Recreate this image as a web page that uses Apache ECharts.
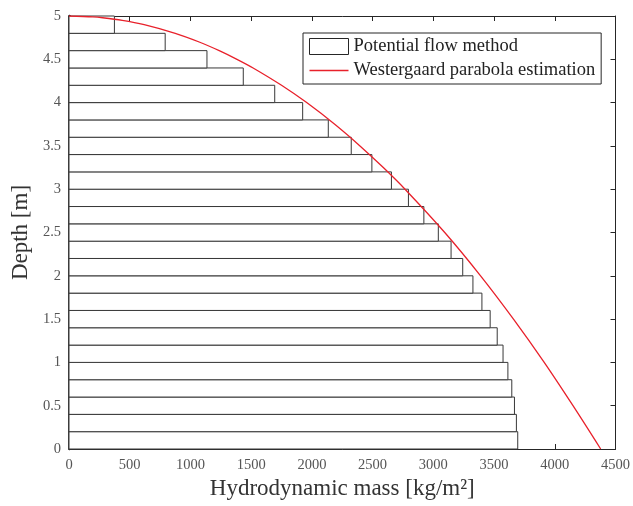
<!DOCTYPE html>
<html>
<head>
<meta charset="utf-8">
<script src="https://cdn.jsdelivr.net/npm/echarts@6/dist/echarts.min.js"></script>
<style>html,body{margin:0;padding:0;background:#fff;}#c{width:633px;height:506px;}</style>
</head>
<body>
<div id="c"></div>
<script>
// Potential flow method: bar bottom depth (m), bar height 0.2 m, hydrodynamic mass (kg/m^2)
const barBottoms = [0.0,0.2,0.4,0.6,0.8,1.0,1.2,1.4,1.6,1.8,2.0,2.2,2.4,2.6,2.8,3.0,3.2,3.4,3.6,3.8,4.0,4.2,4.4,4.6,4.8];
const barMass = [3695,3684,3668,3646,3614,3574,3526,3468,3400,3326,3242,3146,3041,2922,2795,2655,2494,2324,2135,1924,1694,1435,1136,792,374];
const barHeight = 0.2;
// Westergaard parabola estimation
const curveDepth = [5,4.99,4.98,4.95,4.9,4.8,4.7,4.6,4.5,4.4,4.2,4.0,3.75,3.5,3.25,3.0,2.5,2.0,1.5,1.0,0.5,0];
const curveMass = [0,196,277,438,619,875,1072,1237,1383,1516,1750,1957,2188,2396,2588,2767,3094,3389,3660,3913,4150,4378];
const xTicks = {min:0, max:4500, interval:500};
const yTicks = {min:0, max:5, interval:0.5};

const serif = "'Liberation Serif', 'DejaVu Serif', serif";
const barData = barBottoms.map((b,i)=>[barMass[i], b, b+barHeight]);
const lineData = curveDepth.map((d,i)=>[curveMass[i], d]);

const chart = echarts.init(document.getElementById('c'), null, {renderer:'canvas'});
const axisCommon = {
  axisLine:{show:true, onZero:false, lineStyle:{color:'#262626', width:1}},
  axisTick:{show:true, inside:true, length:5, lineStyle:{color:'#262626'}},
  splitLine:{show:false}
};
const plain = v => String(v);
chart.setOption({
  backgroundColor:'#fff',
  animation:false,
  grid:{left:69, right:17, top:16, bottom:57},
  legend:{
    orient:'vertical', left:303, top:33,
    backgroundColor:'#fff', borderColor:'#262626', borderWidth:1,
    padding:[4,6,4,6], itemGap:5, itemWidth:39, itemHeight:16,
    textStyle:{fontFamily:serif, fontSize:18.5, color:'#222'},
    data:[
      {name:'Potential flow method', icon:'rect', itemStyle:{color:'#fff', borderColor:'#262626', borderWidth:1}},
      {name:'Westergaard parabola estimation', icon:'path://M0,0h40v1.4h-40z', itemStyle:{color:'#e8212b', borderWidth:0}}
    ]
  },
  xAxis:[
    Object.assign({type:'value', position:'bottom', min:xTicks.min, max:xTicks.max, interval:xTicks.interval,
      name:'Hydrodynamic mass [kg/m²]', nameLocation:'middle', nameGap:27,
      nameTextStyle:{fontFamily:serif, fontSize:23, color:'#333'},
      axisLabel:{fontFamily:serif, fontSize:14.5, color:'#555', margin:9, formatter:plain}}, axisCommon),
    Object.assign({type:'value', position:'top', min:xTicks.min, max:xTicks.max, interval:xTicks.interval,
      axisLabel:{show:false}}, axisCommon)
  ],
  yAxis:[
    Object.assign({type:'value', position:'left', min:yTicks.min, max:yTicks.max, interval:yTicks.interval,
      name:'Depth [m]', nameLocation:'middle', nameGap:36,
      nameTextStyle:{fontFamily:serif, fontSize:23, color:'#333'},
      axisLabel:{fontFamily:serif, fontSize:14.5, color:'#555', margin:8, formatter:plain}}, axisCommon,
      {axisLine:{show:true, onZero:false, lineStyle:{color:'#000', width:2.5}}}),
    Object.assign({type:'value', position:'right', min:yTicks.min, max:yTicks.max, interval:yTicks.interval,
      axisLabel:{show:false}}, axisCommon)
  ],
  series:[
    {
      name:'Potential flow method', type:'custom', xAxisIndex:0, yAxisIndex:0,
      data:barData,
      encode:{x:0, y:[1,2]},
      renderItem:function(params, api){
        const p0 = api.coord([0, api.value(2)]);
        const p1 = api.coord([api.value(0), api.value(1)]);
        return {type:'rect', shape:{x:p0[0], y:p0[1], width:p1[0]-p0[0], height:p1[1]-p0[1]},
          style:{fill:'#fff', stroke:'#383838', lineWidth:1}};
      },
      itemStyle:{color:'#fff', borderColor:'#262626'},
      z:2
    },
    {
      name:'Westergaard parabola estimation', type:'line', xAxisIndex:0, yAxisIndex:0,
      data:lineData, symbol:'none', smooth:0.3,
      lineStyle:{color:'#e8212b', width:1.3}, itemStyle:{color:'#e8212b'},
      z:3
    }
  ]
});
</script>
</body>
</html>
